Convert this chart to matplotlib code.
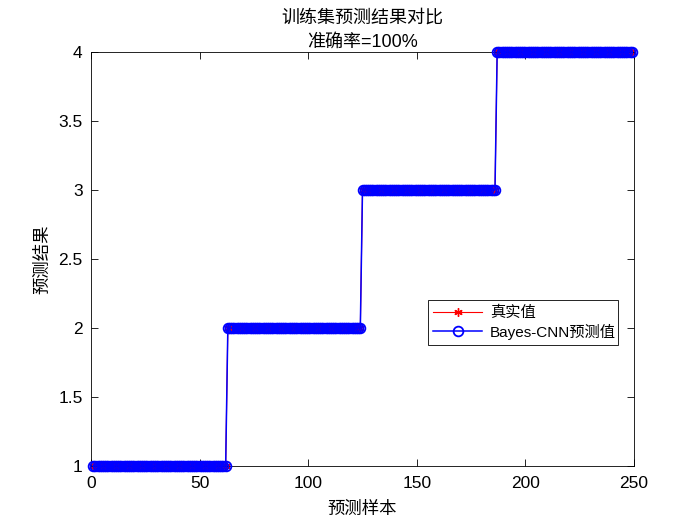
import numpy as np
import matplotlib
matplotlib.use("Agg")
import matplotlib.pyplot as plt

plt.rcParams['font.family'] = ['Liberation Sans', 'Noto Sans CJK SC', 'DejaVu Sans']

# class counts per label
class_labels = [1, 2, 3, 4]
class_counts = [62, 62, 62, 63]
true_vals = np.repeat(class_labels, class_counts)
pred_vals = true_vals.copy()
samples = np.arange(1, len(true_vals) + 1)

title_lines = ["训练集预测结果对比", "准确率=100%"]
xlabel = "预测样本"
ylabel = "预测结果"
legend_labels = ["真实值", "Bayes-CNN预测值"]

fig = plt.figure(figsize=(7, 5.25), dpi=100)
ax = fig.add_axes([91/700, 1 - 466/525, 543/700, 414/525])

ax.plot(samples, true_vals, color='red', marker=(6, 2, 0), linewidth=0.8, markersize=6,
        markeredgewidth=1, label=legend_labels[0], clip_on=False, zorder=2)
ax.plot(samples, pred_vals, color='blue', marker='o', markerfacecolor='none',
        linewidth=1.1, markersize=7, markeredgewidth=1.3, label=legend_labels[1],
        clip_on=False, zorder=3)

ax.set_xlim(0, 250)
ax.set_ylim(1, 4)
ax.set_xticks([0, 50, 100, 150, 200, 250])
ax.set_yticks([1, 1.5, 2, 2.5, 3, 3.5, 4])
ax.set_yticklabels(['1', '1.5', '2', '2.5', '3', '3.5', '4'])
ax.tick_params(direction='in', top=True, right=True, labelsize=12.5, length=5, width=0.6)
ax.tick_params(axis='x', pad=7)
ax.tick_params(axis='y', pad=6)
for s in ax.spines.values():
    s.set_linewidth(0.6)

ax.set_title("\n".join(title_lines), fontsize=13, linespacing=1.6, pad=3.5)
ax.set_xlabel(xlabel, fontsize=12.5, labelpad=7)
ax.set_ylabel(ylabel, fontsize=12.5, labelpad=6)

leg = ax.legend(loc='lower left', bbox_to_anchor=(0.6206, 0.292, 0.35, 0.109),
                mode='expand', fontsize=11, fancybox=False, framealpha=1,
                edgecolor='black', borderpad=0.35, handlelength=3.2,
                handletextpad=0.5, labelspacing=0.25, borderaxespad=0)
leg.get_frame().set_linewidth(0.6)

fig.savefig("out.png", dpi=100)
